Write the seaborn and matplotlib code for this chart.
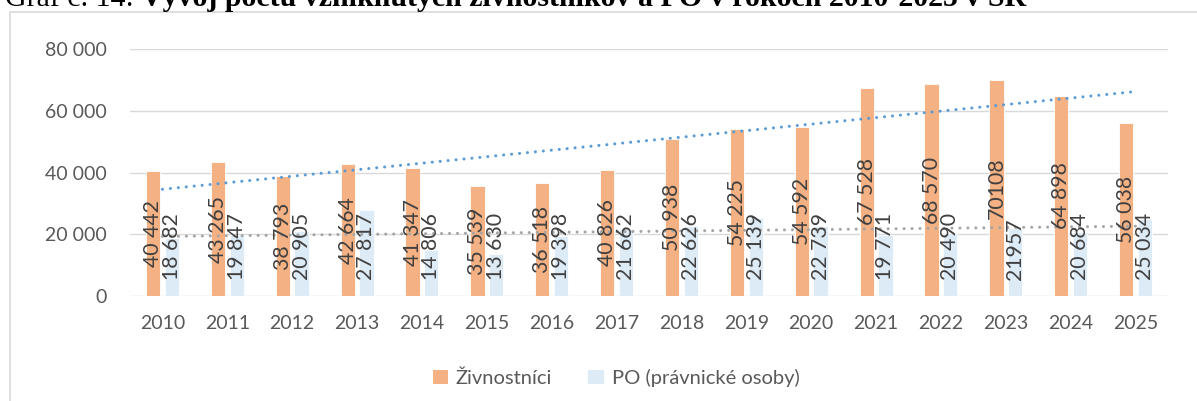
import numpy as np
import pandas as pd
import matplotlib
matplotlib.use("Agg")
import matplotlib.pyplot as plt
from matplotlib.patches import Rectangle, Patch
from matplotlib.ticker import FuncFormatter, MultipleLocator
import seaborn as sns

years = ["2010", "2011", "2012", "2013", "2014", "2015", "2016", "2017",
         "2018", "2019", "2020", "2021", "2022", "2023", "2024", "2025"]
zivnostnici = [40442, 43265, 38793, 42664, 41347, 35539, 36518, 40826,
               50938, 54225, 54592, 67528, 68570, 70108, 64898, 56038]
po = [18682, 19847, 20905, 27817, 14806, 13630, 19398, 21662,
      22626, 25139, 22739, 19771, 20490, 21957, 20684, 25034]
ziv_labels = ["40 442", "43 265", "38 793", "42 664", "41 347", "35 539", "36 518", "40 826",
              "50 938", "54 225", "54 592", "67 528", "68 570", "70108", "64 898", "56 038"]
po_labels = ["18 682", "19 847", "20 905", "27 817", "14 806", "13 630", "19 398", "21 662",
             "22 626", "25 139", "22 739", "19 771", "20 490", "21957", "20 684", "25 034"]
series_names = ["Živnostníci", "PO (právnické osoby)"]
title_regular = "Graf č. 14: "
title_bold = "Vývoj počtu vzniknutých živnostníkov a PO v rokoch 2010-2025 v SR"

df = pd.DataFrame({
    "rok": years * 2,
    "pocet": zivnostnici + po,
    "typ": [series_names[0]] * len(years) + [series_names[1]] * len(years),
})

sns.set_theme(style="white")
FONT = ["Lato", "DejaVu Sans"]
plt.rcParams["font.family"] = FONT

W, H = 1197, 401
fig = plt.figure(figsize=(W / 100, H / 100), dpi=100)
ax = fig.add_axes([130 / W, 1 - 296 / H, (1168 - 130) / W, (296 - 49) / H])

colors = ["#F4B183", "#DDEBF7"]
sns.barplot(data=df, x="rok", y="pocet", hue="typ", hue_order=series_names,
            palette=colors, width=0.58, gap=0.24, ax=ax, legend=False,
            edgecolor="white", linewidth=0.6, saturation=1)

ax.set_ylim(0, 80000)
ax.set_xlim(-0.5, len(years) - 0.5)
ax.yaxis.set_major_locator(MultipleLocator(20000))
ax.yaxis.set_major_formatter(FuncFormatter(lambda v, p: f"{int(v):,}".replace(",", " ")))
ax.set_xlabel("")
ax.set_ylabel("")
for s in ax.spines.values():
    s.set_visible(False)
ax.grid(axis="y", color="#D9D9D9", linewidth=1.0)
ax.set_axisbelow(True)
ax.tick_params(axis="both", length=0, labelsize=14, colors="#595959")
ax.tick_params(axis="y", pad=17)
ax.tick_params(axis="x", pad=14)

# linear trend lines (Excel-like)
xs = np.arange(len(years))
for vals, col in [(zivnostnici, "#5B9BD5"), (po, "#A5A5A5")]:
    k, q = np.polyfit(xs, np.array(vals, dtype=float), 1)
    ax.plot(xs, k * xs + q, color=col, lw=2.2, linestyle=(0, (0.01, 2.6)),
            dash_capstyle="round", zorder=4)

# data labels
ziv_bars, po_bars = ax.containers[0], ax.containers[1]
for bar, lab in zip(ziv_bars, ziv_labels):
    cx = bar.get_x() + bar.get_width() / 2
    ax.text(cx, bar.get_height() / 2, lab, rotation=90, ha="center", va="center",
            fontsize=15.3, color="#404040", zorder=5)
for bar, lab in zip(po_bars, po_labels):
    cx = bar.get_x() + bar.get_width() / 2
    ax.text(cx, 5200, lab, rotation=90, ha="center", va="bottom",
            fontsize=15.3, color="#404040", zorder=5)

# legend
handles = [Patch(facecolor=c, edgecolor="none") for c in colors]
fig.legend(handles, series_names, loc="center", bbox_to_anchor=(616 / W, 1 - 378 / H),
           ncol=2, frameon=False, fontsize=14.5, handlelength=0.75, handleheight=0.75,
           handletextpad=0.4, columnspacing=1.8, labelcolor="#595959")

# chart frame
fig.add_artist(Rectangle((10 / W, -0.5), 2, 0.5 + 1 - 12 / H, transform=fig.transFigure,
                         fill=False, edgecolor="#D9D9D9", linewidth=1.2))

# title (partially cut off at top, as in the source)
base_y = 1 - 6 / H
t1 = fig.text(5 / W, base_y, title_regular, family="Liberation Serif", fontsize=21.5,
              va="baseline", ha="left", color="black")
fig.canvas.draw()
r = fig.canvas.get_renderer()
bb = t1.get_window_extent(r)
fig.text(bb.x1 / W, base_y, title_bold, family="Liberation Serif", fontsize=21.5,
         fontweight="bold", va="baseline", ha="left", color="black")

fig.savefig("out.png", dpi=100)
